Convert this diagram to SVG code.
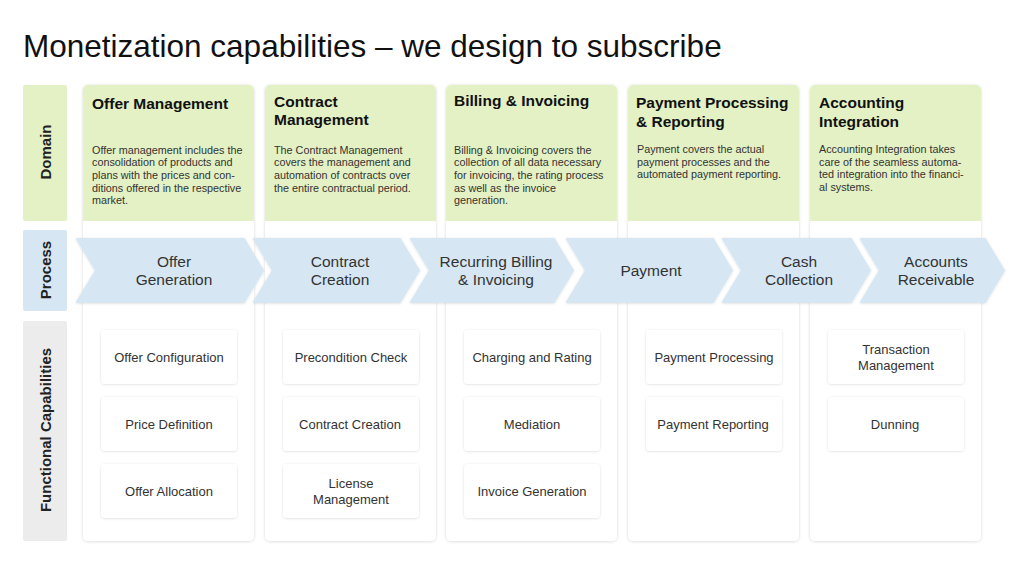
<svg xmlns="http://www.w3.org/2000/svg" width="1024" height="576" viewBox="0 0 1024 576">
<defs>
<filter id="sh" x="-10%" y="-10%" width="120%" height="120%">
<feDropShadow dx="0" dy="0.5" stdDeviation="1.4" flood-color="#000" flood-opacity="0.16"/>
</filter>
<filter id="sh2" x="-10%" y="-20%" width="120%" height="140%">
<feDropShadow dx="0" dy="0.5" stdDeviation="1.2" flood-color="#000" flood-opacity="0.14"/>
</filter>
</defs>
<style>
text{font-family:"Liberation Sans",Arial,Helvetica,sans-serif;}
.title{font-size:31.5px;fill:#111;}
.lab{font-size:15px;font-weight:bold;fill:#222;text-anchor:middle;}
.card{fill:#fff;filter:url(#sh);}
.green{fill:#e3f1c4;}
.h{font-size:15.5px;font-weight:bold;fill:#111;}
.d{font-size:10.8px;fill:#333;}
.arr{fill:#d6e7f3;stroke:#d6e7f3;stroke-width:2;stroke-linejoin:round;filter:url(#sh2);}
.at{font-size:15.5px;fill:#333;text-anchor:middle;}
.box{fill:#fff;filter:url(#sh2);}
.bt{font-size:13px;fill:#333;text-anchor:middle;}
</style>
<rect width="1024" height="576" fill="#fff"/>
<text class="title" x="23" y="57">Monetization capabilities – we design to subscribe</text>

<g id="row-labels">
<g id="label-domain">
<rect x="23" y="85" width="44" height="136" rx="2" fill="#e3f1c4"/>
<text class="lab" transform="translate(50.5,152) rotate(-90)">Domain</text>
</g>
<g id="label-process">
<rect x="23" y="230" width="44" height="81" rx="2" fill="#d6e7f3"/>
<text class="lab" transform="translate(50.5,270) rotate(-90)">Process</text>
</g>
<g id="label-functional">
<rect x="23" y="321" width="44" height="220" rx="2" fill="#ececec"/>
<text class="lab" transform="translate(50.5,430) rotate(-90)">Functional Capabilities</text>
</g>
</g>

<g id="col-offer">
<rect class="card" x="83" y="85" width="171" height="456" rx="5"/>
<path class="green" d="M83,221 V90 A5,5 0 0 1 88,85 H249 A5,5 0 0 1 254,90 V221 Z"/>
<text class="h" x="92" y="109">Offer Management</text>
<text class="d" x="92"><tspan x="92" y="153.5">Offer management includes the</tspan><tspan x="92" y="166">consolidation of products and</tspan><tspan x="92" y="178.5">plans with the prices and con-</tspan><tspan x="92" y="191.5">ditions offered in the respective</tspan><tspan x="92" y="204">market.</tspan></text>
</g>
<g id="col-contract">
<rect class="card" x="265" y="85" width="171" height="456" rx="5"/>
<path class="green" d="M265,221 V90 A5,5 0 0 1 270,85 H431 A5,5 0 0 1 436,90 V221 Z"/>
<text class="h"><tspan x="274" y="106.5">Contract</tspan><tspan x="274" y="125">Management</tspan></text>
<text class="d"><tspan x="274" y="153.5">The Contract Management</tspan><tspan x="274" y="166">covers the management and</tspan><tspan x="274" y="178.5">automation of contracts over</tspan><tspan x="274" y="191.5">the entire contractual period.</tspan></text>
</g>
<g id="col-billing">
<rect class="card" x="446" y="85" width="171" height="456" rx="5"/>
<path class="green" d="M446,221 V90 A5,5 0 0 1 451,85 H612 A5,5 0 0 1 617,90 V221 Z"/>
<text class="h" x="454" y="106">Billing &amp; Invoicing</text>
<text class="d"><tspan x="454" y="153.5">Billing &amp; Invoicing covers the</tspan><tspan x="454" y="166">collection of all data necessary</tspan><tspan x="454" y="178.5">for invoicing, the rating process</tspan><tspan x="454" y="191.5">as well as the invoice</tspan><tspan x="454" y="204">generation.</tspan></text>
</g>
<g id="col-payment">
<rect class="card" x="628" y="85" width="171" height="456" rx="5"/>
<path class="green" d="M628,221 V90 A5,5 0 0 1 633,85 H794 A5,5 0 0 1 799,90 V221 Z"/>
<text class="h"><tspan x="636" y="108">Payment Processing</tspan><tspan x="636" y="127">&amp; Reporting</tspan></text>
<text class="d"><tspan x="637" y="153">Payment covers the actual</tspan><tspan x="637" y="165.5">payment processes and the</tspan><tspan x="637" y="178">automated payment reporting.</tspan></text>
</g>
<g id="col-accounting">
<rect class="card" x="810" y="85" width="171" height="456" rx="5"/>
<path class="green" d="M810,221 V90 A5,5 0 0 1 815,85 H976 A5,5 0 0 1 981,90 V221 Z"/>
<text class="h"><tspan x="819" y="108">Accounting</tspan><tspan x="819" y="127">Integration</tspan></text>
<text class="d"><tspan x="819" y="153">Accounting Integration takes</tspan><tspan x="819" y="165.5">care of the seamless automa-</tspan><tspan x="819" y="178">ted integration into the financi-</tspan><tspan x="819" y="191">al systems.</tspan></text>
</g>

<g id="process">
<g id="p-offer-generation">
<polygon class="arr" points="77,239 244,239 263,270.5 244,302 77,302 96,270.5"/>
<text class="at"><tspan x="174" y="266.5">Offer</tspan><tspan x="174" y="285">Generation</tspan></text>
</g>
<g id="p-contract-creation">
<polygon class="arr" points="254,239 400,239 419,270.5 400,302 254,302 273,270.5"/>
<text class="at"><tspan x="340" y="266.5">Contract</tspan><tspan x="340" y="285">Creation</tspan></text>
</g>
<g id="p-recurring-billing">
<polygon class="arr" points="411,239 554,239 573,270.5 554,302 411,302 430,270.5"/>
<text class="at"><tspan x="496" y="266.5">Recurring Billing</tspan><tspan x="496" y="285">&amp; Invoicing</tspan></text>
</g>
<g id="p-payment">
<polygon class="arr" points="567,239 713,239 732,270.5 713,302 567,302 586,270.5"/>
<text class="at" x="651" y="276">Payment</text>
</g>
<g id="p-cash-collection">
<polygon class="arr" points="723,239 851,239 870,270.5 851,302 723,302 742,270.5"/>
<text class="at"><tspan x="799" y="266.5">Cash</tspan><tspan x="799" y="285">Collection</tspan></text>
</g>
<g id="p-accounts-receivable">
<polygon class="arr" points="861,239 985,239 1004,270.5 985,302 861,302 880,270.5"/>
<text class="at"><tspan x="936" y="266.5">Accounts</tspan><tspan x="936" y="285">Receivable</tspan></text>
</g>
</g>

<g id="capabilities">
<g id="c-offer-configuration"><rect class="box" x="101" y="330" width="136" height="54" rx="4"/><text class="bt" x="169" y="361.5">Offer Configuration</text></g>
<g id="c-price-definition"><rect class="box" x="101" y="397" width="136" height="54" rx="4"/><text class="bt" x="169" y="428.5">Price Definition</text></g>
<g id="c-offer-allocation"><rect class="box" x="101" y="464" width="136" height="54" rx="4"/><text class="bt" x="169" y="495.5">Offer Allocation</text></g>

<g id="c-precondition-check"><rect class="box" x="283" y="330" width="136" height="54" rx="4"/><text class="bt" x="351" y="361.5">Precondition Check</text></g>
<g id="c-contract-creation"><rect class="box" x="283" y="397" width="136" height="54" rx="4"/><text class="bt" x="350" y="428.5">Contract Creation</text></g>
<g id="c-license-management"><rect class="box" x="283" y="464" width="136" height="54" rx="4"/><text class="bt"><tspan x="351" y="488">License</tspan><tspan x="351" y="504">Management</tspan></text></g>

<g id="c-charging-rating"><rect class="box" x="464" y="330" width="136" height="54" rx="4"/><text class="bt" x="532" y="361.5">Charging and Rating</text></g>
<g id="c-mediation"><rect class="box" x="464" y="397" width="136" height="54" rx="4"/><text class="bt" x="532" y="428.5">Mediation</text></g>
<g id="c-invoice-generation"><rect class="box" x="464" y="464" width="136" height="54" rx="4"/><text class="bt" x="532" y="495.5">Invoice Generation</text></g>

<g id="c-payment-processing"><rect class="box" x="646" y="330" width="136" height="54" rx="4"/><text class="bt" x="714" y="361.5">Payment Processing</text></g>
<g id="c-payment-reporting"><rect class="box" x="646" y="397" width="136" height="54" rx="4"/><text class="bt" x="713" y="428.5">Payment Reporting</text></g>

<g id="c-transaction-management"><rect class="box" x="828" y="330" width="136" height="54" rx="4"/><text class="bt"><tspan x="896" y="353.5">Transaction</tspan><tspan x="896" y="369.5">Management</tspan></text></g>
<g id="c-dunning"><rect class="box" x="828" y="397" width="136" height="54" rx="4"/><text class="bt" x="895" y="428.5">Dunning</text></g>
</g>

<g id="connectors"/>
</svg>
